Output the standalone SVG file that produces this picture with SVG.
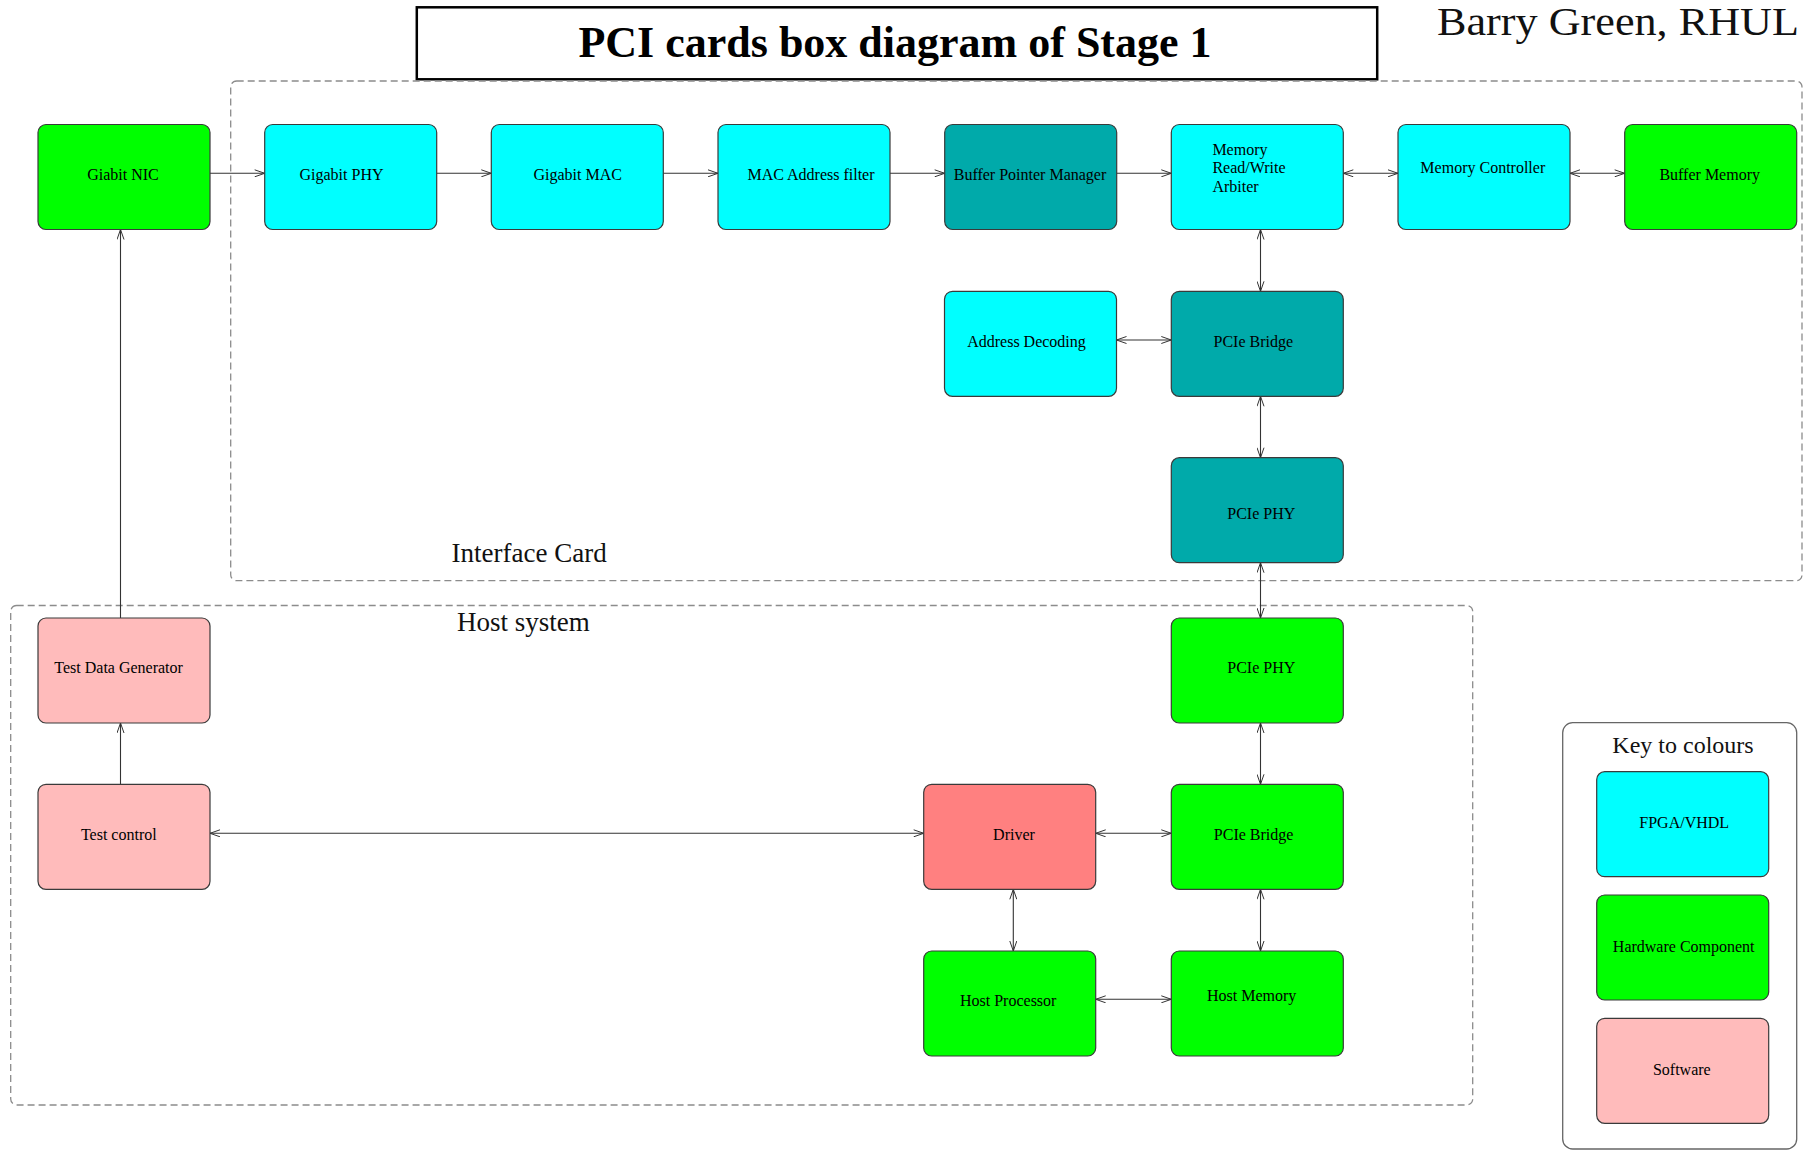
<svg xmlns="http://www.w3.org/2000/svg" width="1807" height="1152" viewBox="0 0 1807 1152">
  <style>
    .box { stroke: #3a3a3a; stroke-width: 1.2; }
    .fpga { fill: #00ffff; }
    .hw { fill: #00ff00; }
    .core { fill: #00aaaa; }
    .sw { fill: #ffbbbb; }
    .drv { fill: #ff8080; }
    .lbl { font-family: "Liberation Serif", "Times New Roman", serif; font-size: 16px; fill: #000; text-anchor: middle; }
    .lbl-l { font-family: "Liberation Serif", "Times New Roman", serif; font-size: 16px; fill: #000; }
    .area { fill: none; stroke: #8c8c8c; stroke-width: 1.3; stroke-dasharray: 7 4; }
    .area-lbl { font-family: "Liberation Serif", "Times New Roman", serif; font-size: 27px; fill: #111; }
    .wire { fill: none; stroke: #333; stroke-width: 1.1; }
  </style>
  <defs>
    <marker id="head" viewBox="0 0 11 8" refX="10.5" refY="4" markerWidth="11" markerHeight="8" markerUnits="userSpaceOnUse" orient="auto-start-reverse">
      <path d="M0.5,0.5 L10.5,4 L0.5,7.5" fill="none" stroke="#333" stroke-width="1"/>
    </marker>
  </defs>

  <rect width="1807" height="1152" fill="#ffffff"/>

  <!-- heading -->
  <g id="title">
    <rect x="416.8" y="7.3" width="960.4" height="72" fill="#ffffff" stroke="#000" stroke-width="2.5"/>
    <text x="895" y="56.7" text-anchor="middle" font-family="'Liberation Serif', 'Times New Roman', serif" font-size="44" font-weight="bold">PCI cards box diagram of Stage 1</text>
  </g>
  <text id="author" x="1437" y="35" textLength="362" lengthAdjust="spacingAndGlyphs" font-family="'Liberation Serif', 'Times New Roman', serif" font-size="40" fill="#111">Barry Green, RHUL</text>

  <!-- enclosing areas -->
  <g id="interface-card">
    <rect class="area" x="230.7" y="81" width="1571.3" height="499.7" rx="6"/>
    <text class="area-lbl" x="451.5" y="561.7">Interface Card</text>
  </g>
  <g id="host-system">
    <rect class="area" x="10.7" y="605.5" width="1462" height="499.5" rx="6"/>
    <text class="area-lbl" x="457" y="630.7">Host system</text>
  </g>

  <!-- connectors -->
  <g id="connectors">
    <line class="wire" x1="210" y1="173.3" x2="264.7" y2="173.3" marker-end="url(#head)"/>
    <line class="wire" x1="436.7" y1="173.3" x2="491.3" y2="173.3" marker-end="url(#head)"/>
    <line class="wire" x1="663.3" y1="173.3" x2="718" y2="173.3" marker-end="url(#head)"/>
    <line class="wire" x1="890" y1="173.3" x2="944.7" y2="173.3" marker-end="url(#head)"/>
    <line class="wire" x1="1116.7" y1="173.3" x2="1171.3" y2="173.3" marker-end="url(#head)"/>
    <line class="wire" x1="1343.3" y1="173.3" x2="1398" y2="173.3" marker-start="url(#head)" marker-end="url(#head)"/>
    <line class="wire" x1="1570" y1="173.3" x2="1624.7" y2="173.3" marker-start="url(#head)" marker-end="url(#head)"/>
    <line class="wire" x1="1260.5" y1="229.5" x2="1260.5" y2="291.3" marker-start="url(#head)" marker-end="url(#head)"/>
    <line class="wire" x1="1116.5" y1="340" x2="1171.3" y2="340" marker-start="url(#head)" marker-end="url(#head)"/>
    <line class="wire" x1="1260.5" y1="396.3" x2="1260.5" y2="457.7" marker-start="url(#head)" marker-end="url(#head)"/>
    <line class="wire" x1="1260.5" y1="562.7" x2="1260.5" y2="618" marker-start="url(#head)" marker-end="url(#head)"/>
    <line class="wire" x1="1260.5" y1="723" x2="1260.5" y2="784.3" marker-start="url(#head)" marker-end="url(#head)"/>
    <line class="wire" x1="1260.5" y1="889.3" x2="1260.5" y2="951" marker-start="url(#head)" marker-end="url(#head)"/>
    <line class="wire" x1="1013.3" y1="889.3" x2="1013.3" y2="951" marker-start="url(#head)" marker-end="url(#head)"/>
    <line class="wire" x1="1095.7" y1="833.3" x2="1171.3" y2="833.3" marker-start="url(#head)" marker-end="url(#head)"/>
    <line class="wire" x1="1095.7" y1="999.3" x2="1171.3" y2="999.3" marker-start="url(#head)" marker-end="url(#head)"/>
    <line class="wire" x1="210" y1="833.3" x2="923.7" y2="833.3" marker-start="url(#head)" marker-end="url(#head)"/>
    <line class="wire" x1="120.5" y1="784.3" x2="120.5" y2="723" marker-end="url(#head)"/>
    <line class="wire" x1="120.5" y1="618" x2="120.5" y2="229.5" marker-end="url(#head)"/>
  </g>

  <!-- network path, row 1 -->
  <g id="giabit-nic"><rect class="box hw" x="38" y="124.5" width="172" height="105" rx="8"/><text class="lbl" x="123" y="180">Giabit NIC</text></g>
  <g id="gigabit-phy"><rect class="box fpga" x="264.7" y="124.5" width="172" height="105" rx="8"/><text class="lbl" x="341.5" y="180">Gigabit PHY</text></g>
  <g id="gigabit-mac"><rect class="box fpga" x="491.3" y="124.5" width="172" height="105" rx="8"/><text class="lbl" x="577.7" y="180">Gigabit MAC</text></g>
  <g id="mac-filter"><rect class="box fpga" x="718" y="124.5" width="172" height="105" rx="8"/><text class="lbl" x="811" y="180" font-size="17">MAC Address filter</text></g>
  <g id="buffer-pointer-manager"><rect class="box core" x="944.7" y="124.5" width="172" height="105" rx="8"/><text class="lbl" x="1030" y="180">Buffer Pointer Manager</text></g>
  <g id="rw-arbiter"><rect class="box fpga" x="1171.3" y="124.5" width="172" height="105" rx="8"/>
    <text class="lbl-l" x="1212.4" y="155">Memory</text>
    <text class="lbl-l" x="1212.4" y="173.3">Read/Write</text>
    <text class="lbl-l" x="1212.4" y="191.7">Arbiter</text>
  </g>
  <g id="memory-controller"><rect class="box fpga" x="1398" y="124.5" width="172" height="105" rx="8"/><text class="lbl" x="1482.8" y="173.3">Memory Controller</text></g>
  <g id="buffer-memory"><rect class="box hw" x="1624.7" y="124.5" width="172" height="105" rx="8"/><text class="lbl" x="1709.7" y="180">Buffer Memory</text></g>

  <!-- card PCIe side -->
  <g id="address-decoding"><rect class="box fpga" x="944.5" y="291.3" width="172" height="105" rx="8"/><text class="lbl" x="1026.5" y="346.7">Address Decoding</text></g>
  <g id="card-pcie-bridge"><rect class="box core" x="1171.3" y="291.3" width="172" height="105" rx="8"/><text class="lbl" x="1253.3" y="346.7">PCIe Bridge</text></g>
  <g id="card-pcie-phy"><rect class="box core" x="1171.3" y="457.7" width="172" height="105" rx="8"/><text class="lbl" x="1261.3" y="519.3">PCIe PHY</text></g>

  <!-- host side -->
  <g id="host-pcie-phy"><rect class="box hw" x="1171.3" y="618" width="172" height="105" rx="8"/><text class="lbl" x="1261.3" y="673">PCIe PHY</text></g>
  <g id="test-data-generator"><rect class="box sw" x="38" y="618" width="172" height="105" rx="8"/><text class="lbl" x="118.6" y="673.3">Test Data Generator</text></g>
  <g id="test-control"><rect class="box sw" x="38" y="784.3" width="172" height="105" rx="8"/><text class="lbl" x="118.8" y="840">Test control</text></g>
  <g id="driver"><rect class="box drv" x="923.7" y="784.3" width="172" height="105" rx="8"/><text class="lbl" x="1014" y="840">Driver</text></g>
  <g id="host-pcie-bridge"><rect class="box hw" x="1171.3" y="784.3" width="172" height="105" rx="8"/><text class="lbl" x="1253.6" y="840">PCIe Bridge</text></g>
  <g id="host-processor"><rect class="box hw" x="923.7" y="951" width="172" height="105" rx="8"/><text class="lbl" x="1008.2" y="1006">Host Processor</text></g>
  <g id="host-memory"><rect class="box hw" x="1171.3" y="951" width="172" height="105" rx="8"/><text class="lbl" x="1251.7" y="1000.7">Host Memory</text></g>

  <!-- colour key -->
  <g id="key">
    <rect x="1562.7" y="722.7" width="234" height="426.3" rx="10" fill="#ffffff" stroke="#666" stroke-width="1.3"/>
    <text x="1683" y="753.3" text-anchor="middle" font-family="'Liberation Serif', 'Times New Roman', serif" font-size="24" fill="#111">Key to colours</text>
    <g id="key-fpga"><rect class="box fpga" x="1596.7" y="771.7" width="172" height="105" rx="8"/><text class="lbl" x="1684.2" y="828.3">FPGA/VHDL</text></g>
    <g id="key-hardware"><rect class="box hw" x="1596.7" y="895" width="172" height="105" rx="8"/><text class="lbl" x="1683.7" y="951.7">Hardware Component</text></g>
    <g id="key-software"><rect class="box sw" x="1596.7" y="1018.3" width="172" height="105" rx="8"/><text class="lbl" x="1681.8" y="1075">Software</text></g>
  </g>
</svg>
